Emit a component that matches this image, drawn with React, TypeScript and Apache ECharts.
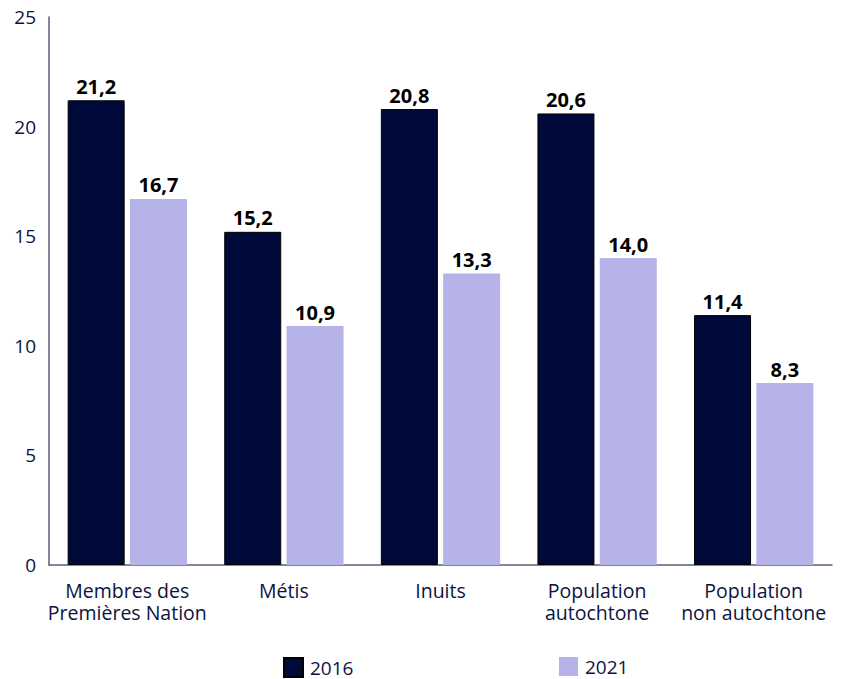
import React, { useEffect, useRef } from "react";
import * as echarts from "echarts";

const categories = [
  "Membres des\nPremières Nation",
  "Métis",
  "Inuits",
  "Population\nautochtone",
  "Population\nnon autochtone",
];
const values2016 = [21.2, 15.2, 20.8, 20.6, 11.4];
const values2021 = [16.7, 10.9, 13.3, 14.0, 8.3];
const seriesNames = ["2016", "2021"];

const FONT = "'Open Sans', Lato, sans-serif";
const NAVY = "#000a3a";
const LAVENDER = "#b5b3e8";
const TEXT = "#0d1340";

export default function App() {
  const ref = useRef<HTMLDivElement>(null);
  useEffect(() => {
    if (!ref.current) return;
    const chart = echarts.init(ref.current, undefined, { renderer: "svg" });
    const labelFmt = (p: any) => Number(p.value).toFixed(1).replace(".", ",");
    const legendText = { fontFamily: FONT, fontSize: 19, color: TEXT, padding: [0, 0, 0, 2] };
    chart.setOption({
      animation: false,
      textStyle: { fontFamily: FONT },
      grid: { left: 49, right: 16, top: 17, bottom: 114, containLabel: false },
      legend: [
        {
          data: [seriesNames[0]],
          left: 283,
          top: 657,
          itemWidth: 19,
          itemHeight: 19,
          icon: "rect",
          textStyle: legendText,
          padding: 0,
        },
        {
          data: [seriesNames[1]],
          left: 559,
          top: 657,
          itemWidth: 19,
          itemHeight: 19,
          icon: "rect",
          textStyle: legendText,
          padding: 0,
        },
      ],
      xAxis: {
        type: "category",
        data: categories,
        axisLine: { show: true, lineStyle: { color: "#5b5d7a", width: 1.5 } },
        axisTick: { show: false },
        axisLabel: {
          fontFamily: FONT,
          fontSize: 19.5,
          color: TEXT,
          margin: 14,
          lineHeight: 22,
          interval: 0,
        },
      },
      yAxis: {
        type: "value",
        min: 0,
        max: 25,
        interval: 5,
        axisLine: { show: true, lineStyle: { color: "#5b5d7a", width: 1.5 } },
        axisTick: { show: false },
        splitLine: { show: false },
        axisLabel: { fontFamily: FONT, fontSize: 19, color: TEXT, margin: 13 },
      },
      series: [
        {
          name: seriesNames[0],
          type: "bar",
          data: values2016,
          barWidth: 57,
          barGap: "9.3%",
          itemStyle: { color: NAVY, borderColor: "#000000", borderWidth: 1 },
          label: {
            show: true,
            position: "top",
            distance: 4,
            formatter: labelFmt,
            fontFamily: FONT,
            fontSize: 20,
            fontWeight: "bold",
            color: "#000000",
          },
        },
        {
          name: seriesNames[1],
          type: "bar",
          data: values2021,
          barWidth: 57,
          itemStyle: { color: LAVENDER },
          label: {
            show: true,
            position: "top",
            distance: 4,
            formatter: labelFmt,
            fontFamily: FONT,
            fontSize: 20,
            fontWeight: "bold",
            color: "#000000",
          },
        },
      ],
    });
    return () => chart.dispose();
  }, []);
  return (
    <div
      ref={ref}
      style={{ position: "absolute", left: 0, top: 0, width: 848, height: 679 }}
    />
  );
}
